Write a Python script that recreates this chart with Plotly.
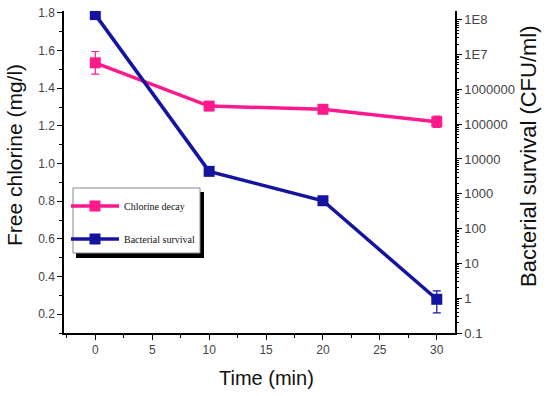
import plotly.graph_objects as go

time = [0, 10, 20, 30]
chlorine = [1.535, 1.305, 1.288, 1.222]
chlorine_err = [0.06, 0.02, 0.01, 0.03]
bacteria = [1.4e8, 4400, 630, 0.93]
bact_err_plus = [0, 0, 0, 0.7]
bact_err_minus = [0, 0, 0, 0.55]

left_ticks = [0.2, 0.4, 0.6, 0.8, 1.0, 1.2, 1.4, 1.6, 1.8]
left_labels = ["0.2", "0.4", "0.6", "0.8", "1.0", "1.2", "1.4", "1.6", "1.8"]
right_ticks = [0.1, 1, 10, 100, 1000, 1e4, 1e5, 1e6, 1e7, 1e8]
right_labels = ["0.1", "1", "10", "100", "1000", "10000", "100000", "1000000", "1E7", "1E8"]
x_ticks = [0, 5, 10, 15, 20, 25, 30]

pink = "#FF1A8C"
blue = "#1414A0"

W, H = 550, 396
L, R, T, B = 64, 95, 11, 63
pw, ph = W - L - R, H - T - B


def px(xp):
    return (xp - L) / pw


def py(yp):
    return (H - B - yp) / ph


fig = go.Figure()
fig.add_trace(go.Scatter(
    x=time, y=chlorine, mode="lines+markers", name="Chlorine decay", legend="legend",
    line=dict(color=pink, width=3.5), marker=dict(symbol="square", size=11, color=pink),
    error_y=dict(type="data", array=chlorine_err, color=pink, thickness=1.2, width=4),
))
fig.add_trace(go.Scatter(
    x=time, y=bacteria, mode="lines+markers", name="Bacterial survival", yaxis="y2", legend="legend2",
    line=dict(color=blue, width=3.5), marker=dict(symbol="square", size=11, color=blue),
    error_y=dict(type="data", symmetric=False, array=bact_err_plus, arrayminus=bact_err_minus,
                 color=blue, thickness=1.2, width=4),
))

minor_right = []
for d in range(-1, 8):
    for m in range(2, 10):
        minor_right.append(m * 10 ** d)

tick_font = dict(family="Liberation Sans, Arial", size=12, color="#444")
tick_font_r = dict(family="Liberation Sans, Arial", size=13, color="#444")
title_font = dict(family="Liberation Sans, Arial", size=21, color="#111")
leg_font = dict(family="Liberation Serif, Times New Roman", size=10, color="#111")

leg_common = dict(xanchor="left", yanchor="middle", bgcolor="rgba(0,0,0,0)", borderwidth=0,
                  font=leg_font, itemwidth=48)

fig.update_layout(
    width=W, height=H,
    margin=dict(l=L, r=R, t=T, b=B),
    plot_bgcolor="white", paper_bgcolor="white",
    showlegend=True,
    legend=dict(x=px(66), y=py(206), **leg_common),
    legend2=dict(x=px(66), y=py(239), **leg_common),
    xaxis=dict(range=[-2.75, 31.6], tickvals=x_ticks, ticks="outside", ticklen=5,
               tickcolor="black", showline=True, linecolor="black", linewidth=1.5,
               showgrid=False, zeroline=False, tickfont=tick_font, automargin=False,
               minor=dict(tickvals=[-2.5, 2.5, 7.5, 12.5, 17.5, 22.5, 27.5], ticks="outside",
                          ticklen=3, tickcolor="black")),
    yaxis=dict(range=[0.1, 1.81], tickvals=left_ticks, ticktext=left_labels, ticks="outside",
               ticklen=5, tickcolor="black", showline=True, linecolor="black", linewidth=1.5,
               showgrid=False, zeroline=False, tickfont=tick_font, automargin=False,
               minor=dict(tickvals=[0.1, 0.3, 0.5, 0.7, 0.9, 1.1, 1.3, 1.5, 1.7], ticks="outside",
                          ticklen=3, tickcolor="black")),
    yaxis2=dict(type="log", overlaying="y", side="right", range=[-1, 8.25],
                tickvals=right_ticks, ticktext=right_labels, ticks="outside", ticklen=5,
                tickcolor="black", showline=True, linecolor="black", linewidth=1.5,
                showgrid=False, zeroline=False, tickfont=tick_font_r, automargin=False,
                minor=dict(tickvals=minor_right, ticks="outside", ticklen=2.5, tickcolor="black")),
    shapes=[
        dict(type="rect", xref="paper", yref="paper", x0=px(76), x1=px(204), y0=py(258), y1=py(192),
             fillcolor="black", line=dict(width=0), layer="above"),
        dict(type="rect", xref="paper", yref="paper", x0=px(73), x1=px(200), y0=py(253), y1=py(188),
             fillcolor="white", line=dict(width=1, color="#888"), layer="above"),
    ],
    annotations=[
        dict(text="Free chlorine (mg/l)", xref="paper", yref="paper", x=-(L - 14) / pw, y=py(155),
             textangle=-90, showarrow=False, font=title_font, xanchor="center", yanchor="middle"),
        dict(text="Bacterial survival (CFU/ml)", xref="paper", yref="paper", x=px(528), y=py(156),
             textangle=-90, showarrow=False, font=dict(family="Liberation Sans, Arial", size=22, color="#111"),
             xanchor="center", yanchor="middle"),
        dict(text="Time (min)", xref="paper", yref="paper", x=px(266), y=py(378),
             showarrow=False, font=dict(family="Liberation Sans, Arial", size=20, color="#111"),
             xanchor="center", yanchor="middle"),
    ],
)

fig.write_html("out.html", config={"displayModeBar": False},
               post_script="document.body.style.margin='0';document.body.style.overflow='hidden';")
